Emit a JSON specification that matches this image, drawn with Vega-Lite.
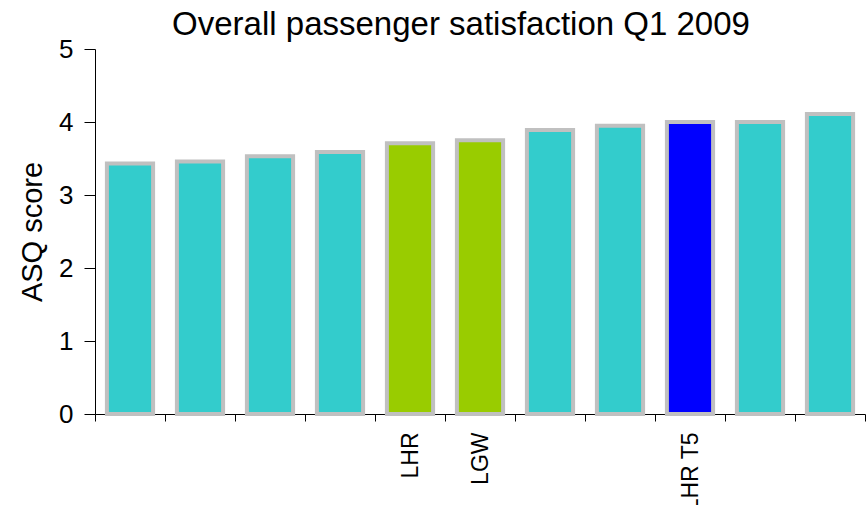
{
  "$schema": "https://vega.github.io/schema/vega-lite/v6.json",
  "autosize": "none",
  "width": 770,
  "height": 365,
  "padding": {"left": 95, "top": 49, "right": 1, "bottom": 91},
  "background": "white",
  "title": {
    "text": "Overall passenger satisfaction Q1 2009",
    "font": "Liberation Sans",
    "fontSize": 33,
    "fontWeight": "normal",
    "color": "black",
    "anchor": "middle",
    "frame": "group",
    "baseline": "top",
    "offset": 8,
    "dx": -19,
    "dy": 14
  },
  "config": {
    "view": {"stroke": null},
    "font": "Liberation Sans"
  },
  "data": {
    "values": [
      {"rank": 1, "airport": "", "group": "Other", "score": 3.43},
      {"rank": 2, "airport": "", "group": "Other", "score": 3.46},
      {"rank": 3, "airport": "", "group": "Other", "score": 3.53},
      {"rank": 4, "airport": "", "group": "Other", "score": 3.59},
      {"rank": 5, "airport": "LHR", "group": "BAA", "score": 3.71},
      {"rank": 6, "airport": "LGW", "group": "BAA", "score": 3.75},
      {"rank": 7, "airport": "", "group": "Other", "score": 3.89},
      {"rank": 8, "airport": "", "group": "Other", "score": 3.95},
      {"rank": 9, "airport": "LHR T5", "group": "T5", "score": 4.0},
      {"rank": 10, "airport": "", "group": "Other", "score": 4.0},
      {"rank": 11, "airport": "", "group": "Other", "score": 4.11}
    ]
  },
  "mark": {"type": "bar", "stroke": "#C0C0C0", "strokeWidth": 4, "width": {"band": 0.66}},
  "encoding": {
    "x": {
      "field": "rank",
      "type": "ordinal",
      "scale": {"paddingInner": 0, "paddingOuter": 0},
      "axis": {
        "title": null,
        "labelExpr": "datum.value == 5 ? 'LHR' : datum.value == 6 ? 'LGW' : datum.value == 9 ? 'LHR T5' : ''",
        "labelAngle": -90,
        "labelFont": "Liberation Sans",
        "labelFontSize": 23,
        "labelColor": "black",
        "labelPadding": 11,
        "tickBand": "extent",
        "tickSize": 7,
        "tickColor": "black",
        "domainColor": "black",
        "grid": false
      }
    },
    "y": {
      "field": "score",
      "type": "quantitative",
      "scale": {"domain": [0, 5], "nice": false},
      "axis": {
        "title": "ASQ score",
        "titleFont": "Liberation Sans",
        "titleFontSize": 29,
        "titleFontWeight": "normal",
        "titleColor": "black",
        "titlePadding": 11,
        "values": [0, 1, 2, 3, 4, 5],
        "labelFont": "Liberation Sans",
        "labelFontSize": 26,
        "labelColor": "black",
        "labelPadding": 11,
        "tickSize": 11,
        "tickColor": "black",
        "domainColor": "black",
        "grid": false
      }
    },
    "color": {
      "field": "group",
      "type": "nominal",
      "scale": {"domain": ["Other", "BAA", "T5"], "range": ["#33CCCC", "#99CC00", "#0000FF"]},
      "legend": null
    }
  }
}
